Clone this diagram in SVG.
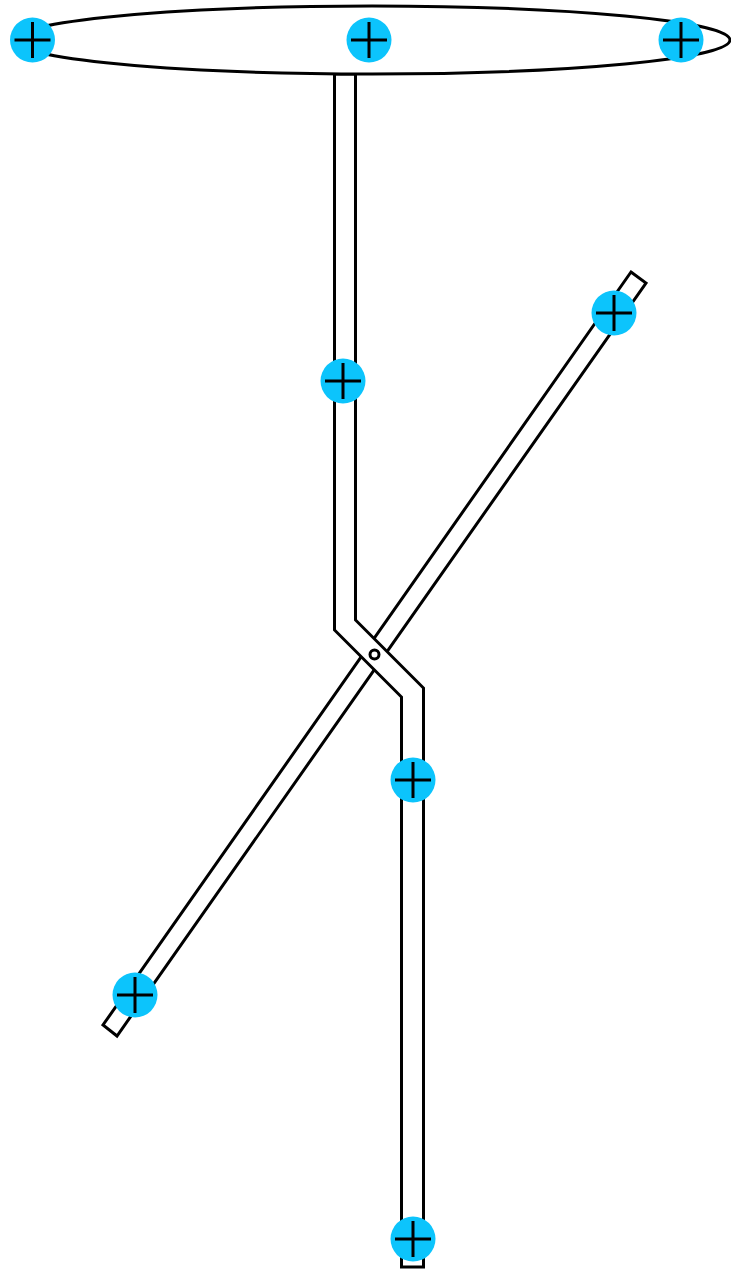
<svg xmlns="http://www.w3.org/2000/svg" width="731" height="1270" viewBox="0 0 731 1270">
<style>
.s{fill:#fff;stroke:#000;stroke-width:3;stroke-linejoin:miter}
.p{fill:#0cc4fc}
.c{fill:none;stroke:#000;stroke-width:3}
</style>
<defs>
<g id="port"><circle class="p" r="22.500"/><path class="c" d="M-18 0H18M0-18V18"/></g>
</defs>
<rect width="731" height="1270" fill="#fff"/>
<g id="connectors">
<polygon id="diagonal-bar" class="s" points="631,272 646,283 117,1036 103,1025"/>
<polygon id="zigzag-bar" class="s" points="334.500,74 355.500,74 355.500,620 423.500,688 423.500,1267 401.500,1267 401.500,697 334.500,630"/>
<ellipse id="top-ellipse" class="s" cx="372" cy="40" rx="358" ry="34"/>
<circle id="pivot" class="c" cx="374.500" cy="654.500" r="4.500"/>
</g>
<use id="node-top-left" href="#port" x="32.500" y="40"/>
<use id="node-top-mid" href="#port" x="369" y="40"/>
<use id="node-top-right" href="#port" x="681" y="40"/>
<use id="node-upper-stem" href="#port" x="343" y="381"/>
<use id="node-diag-top" href="#port" x="614" y="313"/>
<use id="node-lower-stem" href="#port" x="413" y="780"/>
<use id="node-diag-bottom" href="#port" x="135" y="995"/>
<use id="node-bottom" href="#port" x="413" y="1239"/>
</svg>
